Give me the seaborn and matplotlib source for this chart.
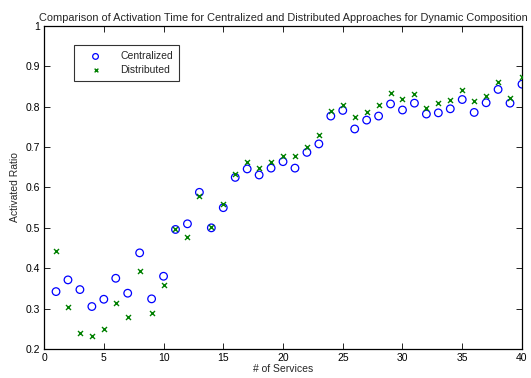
import matplotlib
matplotlib.use("Agg")
import matplotlib.pyplot as plt
import seaborn as sns
import numpy as np
import pandas as pd
from matplotlib.ticker import FuncFormatter, MultipleLocator

services = list(range(1, 41))
centralized = [0.342, 0.371, 0.347, 0.305, 0.323, 0.375, 0.338, 0.438, 0.324, 0.380,
               0.496, 0.510, 0.588, 0.500, 0.550, 0.625, 0.646, 0.631, 0.648, 0.664,
               0.648, 0.687, 0.708, 0.777, 0.791, 0.745, 0.767, 0.777, 0.807, 0.792,
               0.809, 0.782, 0.785, 0.795, 0.818, 0.786, 0.810, 0.843, 0.809, 0.856]
distributed = [0.442, 0.305, 0.240, 0.232, 0.250, 0.313, 0.278, 0.393, 0.288, 0.359,
               0.498, 0.478, 0.578, 0.502, 0.559, 0.634, 0.663, 0.649, 0.663, 0.677,
               0.677, 0.701, 0.730, 0.790, 0.805, 0.775, 0.786, 0.804, 0.833, 0.819,
               0.832, 0.796, 0.810, 0.818, 0.842, 0.814, 0.827, 0.861, 0.823, 0.875]

title = "Comparison of Activation Time for Centralized and Distributed Approaches for Dynamic Composition"

sns.set_theme(style="white")
plt.rcParams['font.family'] = ['Liberation Sans', 'DejaVu Sans']
fs = 7.5

fig = plt.figure(figsize=(5.31, 3.78), dpi=100)
ax = fig.add_axes([0.083, 0.077, 0.900, 0.854])

sns.scatterplot(x=services, y=centralized, ax=ax, marker='o', s=30,
                facecolors='none', edgecolor='#0000ff', linewidth=0.9,
                label='Centralized', zorder=3)
sns.scatterplot(x=services, y=distributed, ax=ax, marker='x', s=13,
                color='#008000', linewidth=1.0, label='Distributed', zorder=3)

ax.set_xlim(0, 40)
ax.set_ylim(0.2, 1.0)
ax.xaxis.set_major_locator(MultipleLocator(5))
ax.yaxis.set_major_locator(MultipleLocator(0.1))
ax.yaxis.set_major_formatter(FuncFormatter(lambda v, p: f"{v:g}"))
ax.tick_params(direction='in', length=4, width=0.6, top=True, right=True,
               bottom=True, left=True, labelsize=fs, colors='black', pad=3)
for sp in ax.spines.values():
    sp.set_color('black')
    sp.set_linewidth(0.9)

ax.set_xlabel("# of Services", fontsize=fs, labelpad=1)
ax.set_ylabel("Activated Ratio", fontsize=fs, labelpad=4)
ax.set_title(title, fontsize=7.95, pad=4)

leg = ax.legend(loc='upper left', bbox_to_anchor=(0.063, 0.94), fontsize=fs,
                frameon=True, fancybox=False, edgecolor='black', markerscale=0.75,
                handletextpad=0.9, borderpad=0.55, labelspacing=0.35, handlelength=3,
                borderaxespad=0)
leg.get_frame().set_linewidth(0.8)

fig.savefig("out.png", dpi=100)
